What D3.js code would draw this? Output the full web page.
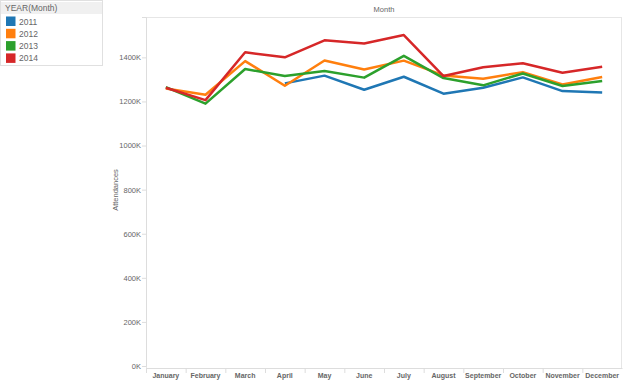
<!DOCTYPE html>
<html>
<head>
<meta charset="utf-8">
<script src="https://cdn.jsdelivr.net/npm/d3@7"></script>
<style>
  body { margin: 0; background: #fff; font-family: "Liberation Sans", Arial, sans-serif; }
  svg text { fill: #666; }
</style>
</head>
<body>
<svg width="630" height="386"></svg>
<script>
// months on the x axis
var months = ["January", "February", "March", "April", "May", "June", "July",
  "August", "September", "October", "November", "December"]
var years = ["2011", "2012", "2013", "2014"]
var colors = ["#1f77b4", "#ff7f0e", "#2ca02c", "#d62728"]
var yTicks = [0, 200000, 400000, 600000, 800000, 1000000, 1200000, 1400000]

// attendances per month, null = no data
var values2011 = [null, null, null, 1282000, 1317000, 1253000, 1312000, 1235000, 1262000, 1309000, 1247000, 1241000]
var values2012 = [1259000, 1230000, 1383000, 1271000, 1386000, 1345000, 1385000, 1318000, 1303000, 1333000, 1277000, 1311000]
var values2013 = [1265000, 1190000, 1347000, 1315000, 1338000, 1308000, 1407000, 1306000, 1273000, 1327000, 1270000, 1293000]
var values2014 = [1262000, 1206000, 1423000, 1400000, 1477000, 1463000, 1501000, 1315000, 1355000, 1373000, 1330000, 1357000]
var series = [values2011, values2012, values2013, values2014]

var svg = d3.select("svg")
var plotLeft = 146, plotRight = 622, plotTop = 17, plotBottom = 366

var x = d3.scaleBand().domain(months).range([plotLeft, plotRight])
var y = d3.scaleLinear().domain([0, 1583000]).range([plotBottom, plotTop])

// plot frame
svg.append("rect")
  .attr("x", plotLeft + 0.5).attr("y", plotTop + 0.5)
  .attr("width", plotRight - plotLeft - 1).attr("height", plotBottom - plotTop + 2)
  .attr("fill", "none").attr("stroke", "#e6e6e6")

// y axis
var yAxis = d3.axisLeft(y).tickValues(yTicks).tickSize(4)
  .tickFormat(d => (d / 1000) + "K")
var yg = svg.append("g").attr("transform", "translate(" + plotLeft + ",0)").call(yAxis)
yg.select(".domain").attr("stroke", "#ddd")
yg.selectAll(".tick line").attr("stroke", "#ddd")
yg.selectAll("text").attr("x", -5).style("font-size", "7.5px").attr("fill", "#666")

// x axis
var xAxis = d3.axisBottom(x).tickSize(0)
var xg = svg.append("g").attr("transform", "translate(0," + (plotBottom + 2) + ")").call(xAxis)
xg.select(".domain").attr("stroke", "#ddd")
xg.selectAll("text").attr("y", 5).style("font-size", "7px").style("font-weight", "bold").attr("fill", "#555")
xg.selectAll(".sep").data(months).enter().append("line")
  .attr("class", "sep")
  .attr("x1", d => x(d) + 0.5).attr("x2", d => x(d) + 0.5)
  .attr("y1", 0).attr("y2", 5).attr("stroke", "#ddd")

// titles
svg.append("text").attr("x", (plotLeft + plotRight) / 2).attr("y", 12)
  .attr("text-anchor", "middle").style("font-size", "7.5px").text("Month")
svg.append("text").attr("transform", "translate(118,190) rotate(-90)")
  .attr("text-anchor", "middle").style("font-size", "7.5px").text("Attendances")

// lines
var line = d3.line()
  .defined(d => d != null)
  .x((d, i) => x(months[i]) + x.bandwidth() / 2)
  .y(d => y(d))

svg.selectAll(".series").data(series).enter().append("path")
  .attr("class", "series")
  .attr("d", line)
  .attr("fill", "none")
  .attr("stroke", (d, i) => colors[i])
  .attr("stroke-width", 2.5)
  .attr("stroke-linejoin", "round")

// legend
var legend = svg.append("g")
legend.append("rect").attr("x", 0.5).attr("y", 0.5).attr("width", 102).attr("height", 65)
  .attr("fill", "#fff").attr("stroke", "#e0e0e0")
legend.append("rect").attr("x", 1).attr("y", 2).attr("width", 101).attr("height", 12).attr("fill", "#f0f0f0")
legend.append("text").attr("x", 5).attr("y", 11).style("font-size", "8.5px").attr("fill", "#444").text("YEAR(Month)")
var items = legend.selectAll(".item").data(years).enter().append("g")
  .attr("transform", (d, i) => "translate(6," + (16.5 + i * 12.3) + ")")
items.append("rect").attr("width", 9.5).attr("height", 9.5).attr("fill", (d, i) => colors[i])
items.append("text").attr("x", 13).attr("y", 8).style("font-size", "8.5px").attr("fill", "#666").text(d => d)
</script>
</body>
</html>
